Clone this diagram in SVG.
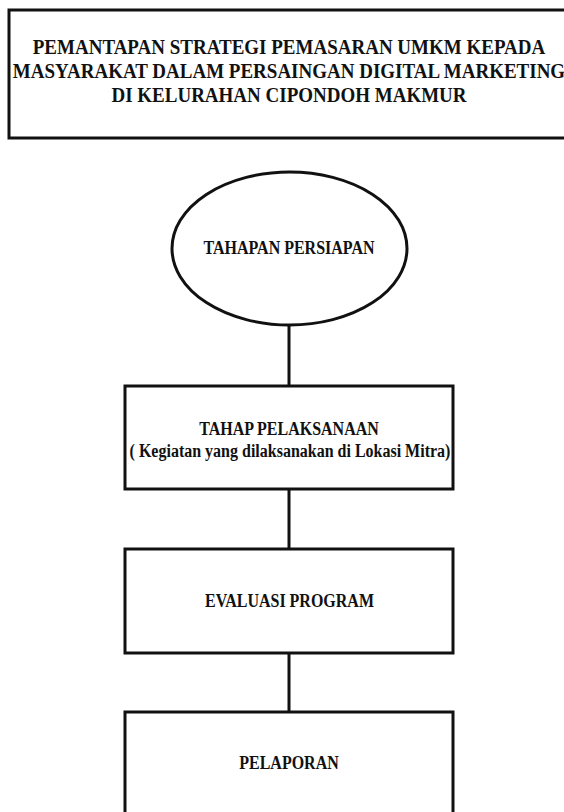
<svg xmlns="http://www.w3.org/2000/svg" width="564" height="812" viewBox="0 0 564 812">
<style>
.box{fill:#fff;stroke:#111;stroke-width:3}
.ln{stroke:#111;stroke-width:3;fill:none}
.t{font-family:"Liberation Serif","Times New Roman",serif;font-weight:bold;fill:#111;text-anchor:middle}
.tt{font-size:19px}
.bt{font-size:16px}
</style>
<rect width="564" height="812" fill="#fff"/>
<g id="connectors">
<line class="ln" x1="289" y1="325" x2="289" y2="386"/>
<line class="ln" x1="289" y1="489" x2="289" y2="549"/>
<line class="ln" x1="289" y1="653" x2="289" y2="712"/>
</g>
<g id="title">
<rect class="box" x="9" y="10" width="570" height="128"/>
<text class="t tt" transform="translate(289,54) scale(1,1.15)">PEMANTAPAN STRATEGI PEMASARAN UMKM KEPADA</text>
<text class="t tt" transform="translate(289,78) scale(1,1.15)">MASYARAKAT DALAM PERSAINGAN DIGITAL MARKETING</text>
<text class="t tt" transform="translate(289,102) scale(1,1.15)">DI KELURAHAN CIPONDOH MAKMUR</text>
</g>
<g id="persiapan">
<ellipse class="box" cx="289.5" cy="248.5" rx="117.5" ry="76.5"/>
<text class="t bt" transform="translate(289,254) scale(1,1.15)">TAHAPAN PERSIAPAN</text>
</g>
<g id="pelaksanaan">
<rect class="box" x="125" y="386" width="328" height="103"/>
<text class="t bt" transform="translate(289,435) scale(1,1.15)">TAHAP PELAKSANAAN</text>
<text class="t bt" transform="translate(290,457) scale(1,1.15)">( Kegiatan yang dilaksanakan di Lokasi Mitra)</text>
</g>
<g id="evaluasi">
<rect class="box" x="125" y="549" width="328" height="104"/>
<text class="t bt" transform="translate(289.5,607) scale(1,1.15)">EVALUASI PROGRAM</text>
</g>
<g id="pelaporan">
<rect class="box" x="125" y="712" width="328" height="110"/>
<text class="t bt" transform="translate(289,769) scale(1,1.15)">PELAPORAN</text>
</g>
</svg>
